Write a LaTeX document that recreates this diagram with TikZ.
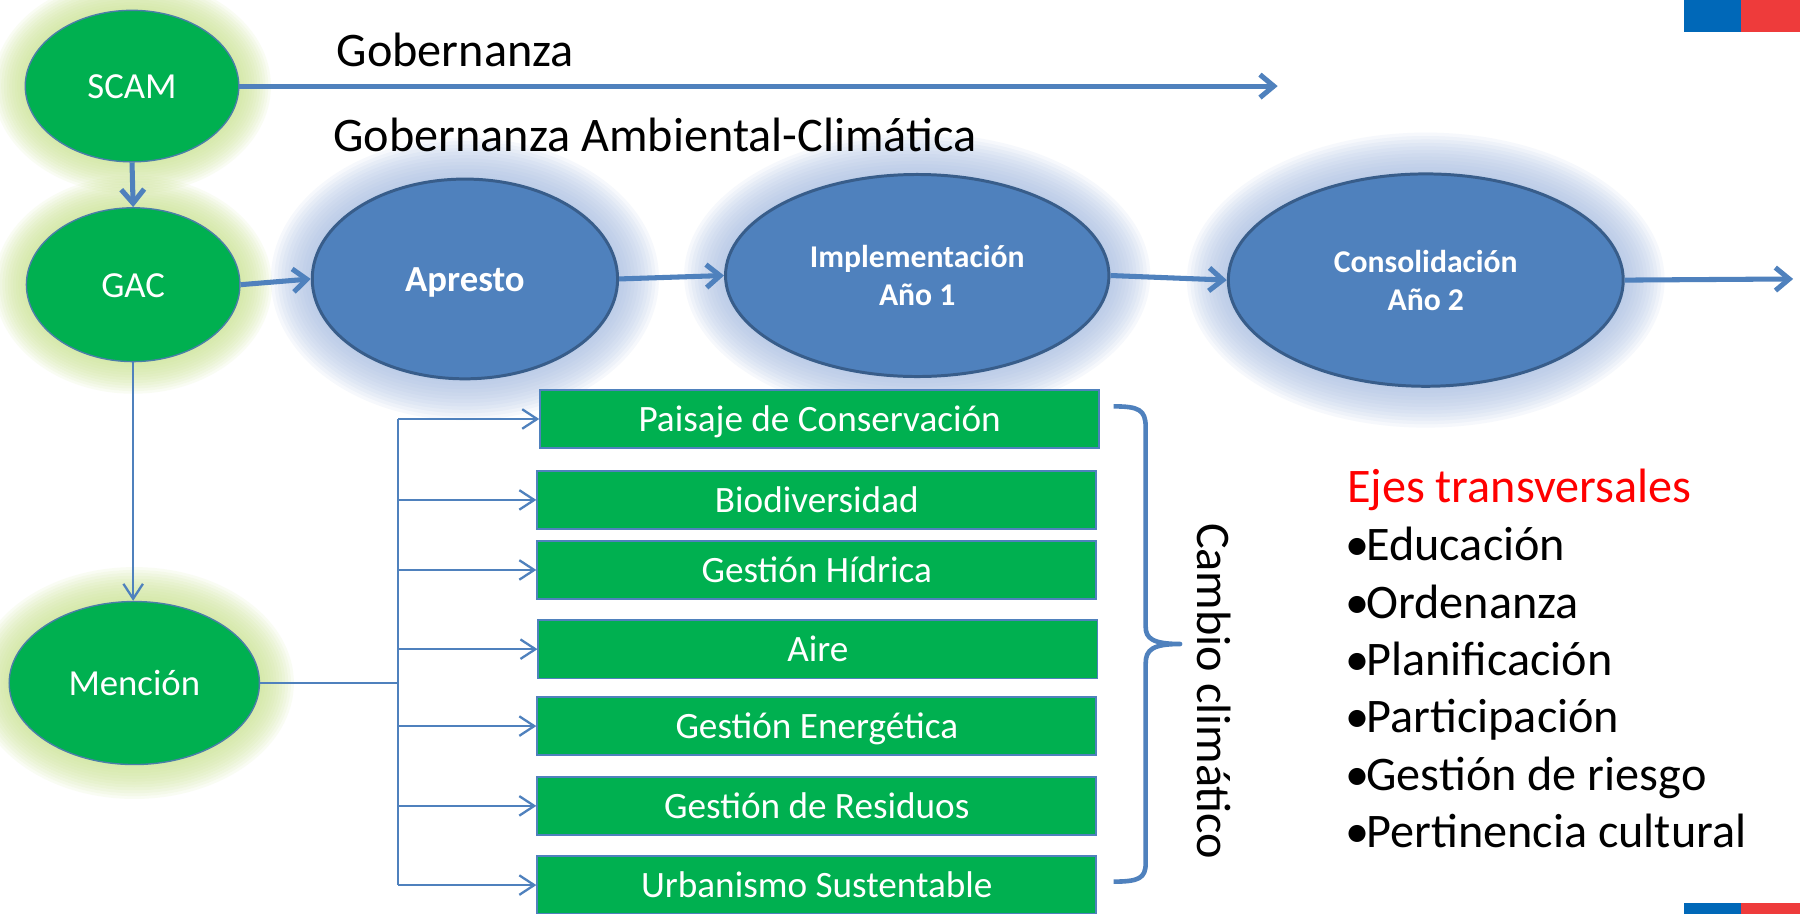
\documentclass[tikz,border=0pt]{standalone}
\usepackage{fontspec}
\setmainfont{Carlito}
\usetikzlibrary{arrows.meta,shapes.geometric}
\definecolor{cgreen}{HTML}{00B050}
\definecolor{cblue}{HTML}{4F81BD}
\definecolor{cdark}{HTML}{385D8A}
\definecolor{gborder}{HTML}{4A7EA8}
\definecolor{glowG}{rgb}{0.80,0.90,0.57}
\definecolor{glowB}{rgb}{0.66,0.75,0.89}
\definecolor{flagblue}{HTML}{0068B8}
\definecolor{flagred}{HTML}{EE3B3B}
\definecolor{ejesred}{HTML}{FF0000}
\newcommand{\myglow}[6]{%
  \foreach \k in {1,...,12}{%
    \fill[#6,fill opacity=0.1] (#1,#2) ellipse [x radius={#3+#5*\k/12}, y radius={#4+#5*\k/12}];
  }%
}
\begin{document}
\begin{tikzpicture}[x=0.5pt,y=-0.5pt,
  gell/.style={ellipse,fill=cgreen,draw=gborder,line width=0.6pt,text=white,inner sep=0pt,font=\fontsize{16}{19}\selectfont,text height=12.2pt,text depth=1.4pt},
  bell/.style={ellipse,fill=cblue,draw=cdark,line width=1.3pt,text=white,inner sep=0pt,align=center},
  box/.style={rectangle,fill=cgreen,draw=cblue,line width=0.8pt,text=white,minimum width=243.5pt,minimum height=25.5pt,inner sep=0pt,font=\fontsize{16.2}{19}\selectfont,text height=12.4pt,text depth=1.4pt},
  thickarr/.style={draw=cblue,line width=2.2pt,-{Straight Barb[length=6pt,width=10pt]}},
  thinarr/.style={draw=cblue,line width=1pt,-{Straight Barb[length=6.5pt,width=8.5pt]}},
  thinline/.style={draw=cblue,line width=1pt},
  bigtext/.style={inner sep=0pt,font=\fontsize{21}{25}\selectfont},
]
\useasboundingbox (0,0) rectangle (1568,796);
\clip (0,0) rectangle (1568,796);
\fill[white] (0,0) rectangle (1568,796);

% glows
\myglow{115}{75}{93}{66}{28}{glowG}
\myglow{116}{248}{93}{67}{28}{glowG}
\myglow{117}{595}{109}{71}{30}{glowG}
\myglow{405}{243}{133}{87}{36}{glowB}
\myglow{799}{240}{167}{88}{36}{glowB}
\myglow{1242}{244}{172}{92.5}{36}{glowB}

% main ellipses
\node[gell,minimum width=93pt,minimum height=66pt] (scam) at (115,75) {SCAM};
\node[gell,minimum width=93pt,minimum height=67pt] (gac) at (116,248) {GAC};
\node[gell,minimum width=109pt,minimum height=71pt] (mencion) at (117,595) {Mención};
\node[bell,minimum width=133pt,minimum height=87pt,font=\bfseries\fontsize{16}{19}\selectfont,text height=12.2pt,text depth=1.4pt] (apresto) at (405,243) {Apresto};
\node[bell,minimum width=167pt,minimum height=88pt,font=\bfseries\fontsize{13.8}{16.5}\selectfont] (impl) at (799,240) {Implementación\\Año 1};
\node[bell,minimum width=172pt,minimum height=92.5pt,font=\bfseries\fontsize{13.8}{16.5}\selectfont] (cons) at (1242,244) {Consolidación\\Año 2};

% titles
\node[bigtext,anchor=base west] (gob) at (293,58) {Gobernanza};
\node[bigtext,anchor=base west] (gobac) at (290,132) {Gobernanza Ambiental-Climática};

% main arrows
\coordinate (gobend) at (1113,75);
\coordinate (consend) at (1562,243);
\draw[thickarr] (scam.east) -- (gobend);
\draw[thickarr] (scam.south) -- (gac.north);
\draw[thickarr] (gac.east) -- (apresto.west);
\draw[thickarr] (apresto.east) -- (impl.west);
\draw[thickarr] (impl.east) -- (cons.west);
\draw[thickarr] (cons.east) -- (consend);

% boxes
\node[box] (b1) at (714,365) {Paisaje de Conservación};
\node[box] (b2) at (711.5,435.5) {Biodiversidad};
\node[box] (b3) at (711.5,496.5) {Gestión Hídrica};
\node[box] (b4) at (712.5,565.5) {Aire};
\node[box] (b5) at (711.5,632.5) {Gestión Energética};
\node[box] (b6) at (711.5,702) {Gestión de Residuos};
\node[box] (b7) at (711.5,771) {Urbanismo Sustentable};

% tree connectors
\draw[thinarr] (gac.south) -- (gac.south |- mencion.north);
\coordinate (bus) at (347,595);
\coordinate (bustop) at (347,365);
\coordinate (busbot) at (347,771);
\draw[thinline] (mencion.east) -- (bus);
\draw[thinline] (bustop) -- (busbot);
\foreach \b in {b1,b2,b3,b4,b5,b6,b7}{
  \draw[thinarr] (\b.west -| bus) -- (\b.west);
}

% brace
\draw[cblue,line width=2pt,line join=round]
  (970,354) .. controls (992,354) and (998,357) .. (998,372)
  -- (998,546) .. controls (998,556) and (1004,561) .. (1028,561)
  .. controls (1004,561) and (998,566) .. (998,578)
  -- (998,752) .. controls (998,765) and (992,768) .. (970,768);
\node[bigtext,rotate=-90] (cc) at (1058,602) {Cambio climático};

% ejes
\node[bigtext,anchor=base west,text=ejesred] (ejes) at (1173,438) {Ejes transversales};
\node[bigtext,anchor=base west] (e1) at (1172,488.5) {•\kern-1.5pt Educación};
\node[bigtext,anchor=base west] (e2) at (1172,538.5) {•\kern-1.5pt Ordenanza};
\node[bigtext,anchor=base west] (e3) at (1172,588.5) {•\kern-1.5pt Planificación};
\node[bigtext,anchor=base west] (e4) at (1172,638.5) {•\kern-1.5pt Participación};
\node[bigtext,anchor=base west] (e5) at (1172,688.5) {•\kern-1.5pt Gestión de riesgo};
\node[bigtext,anchor=base west] (e6) at (1172,738.5) {•\kern-1.5pt Pertinencia cultural};

% flag corners
\fill[flagblue] (1467,0) rectangle (1517,28);
\fill[flagred] (1517,0) rectangle (1568,28);
\fill[flagblue] (1467,787) rectangle (1517,796);
\fill[flagred] (1517,787) rectangle (1568,796);
\end{tikzpicture}
\end{document}
